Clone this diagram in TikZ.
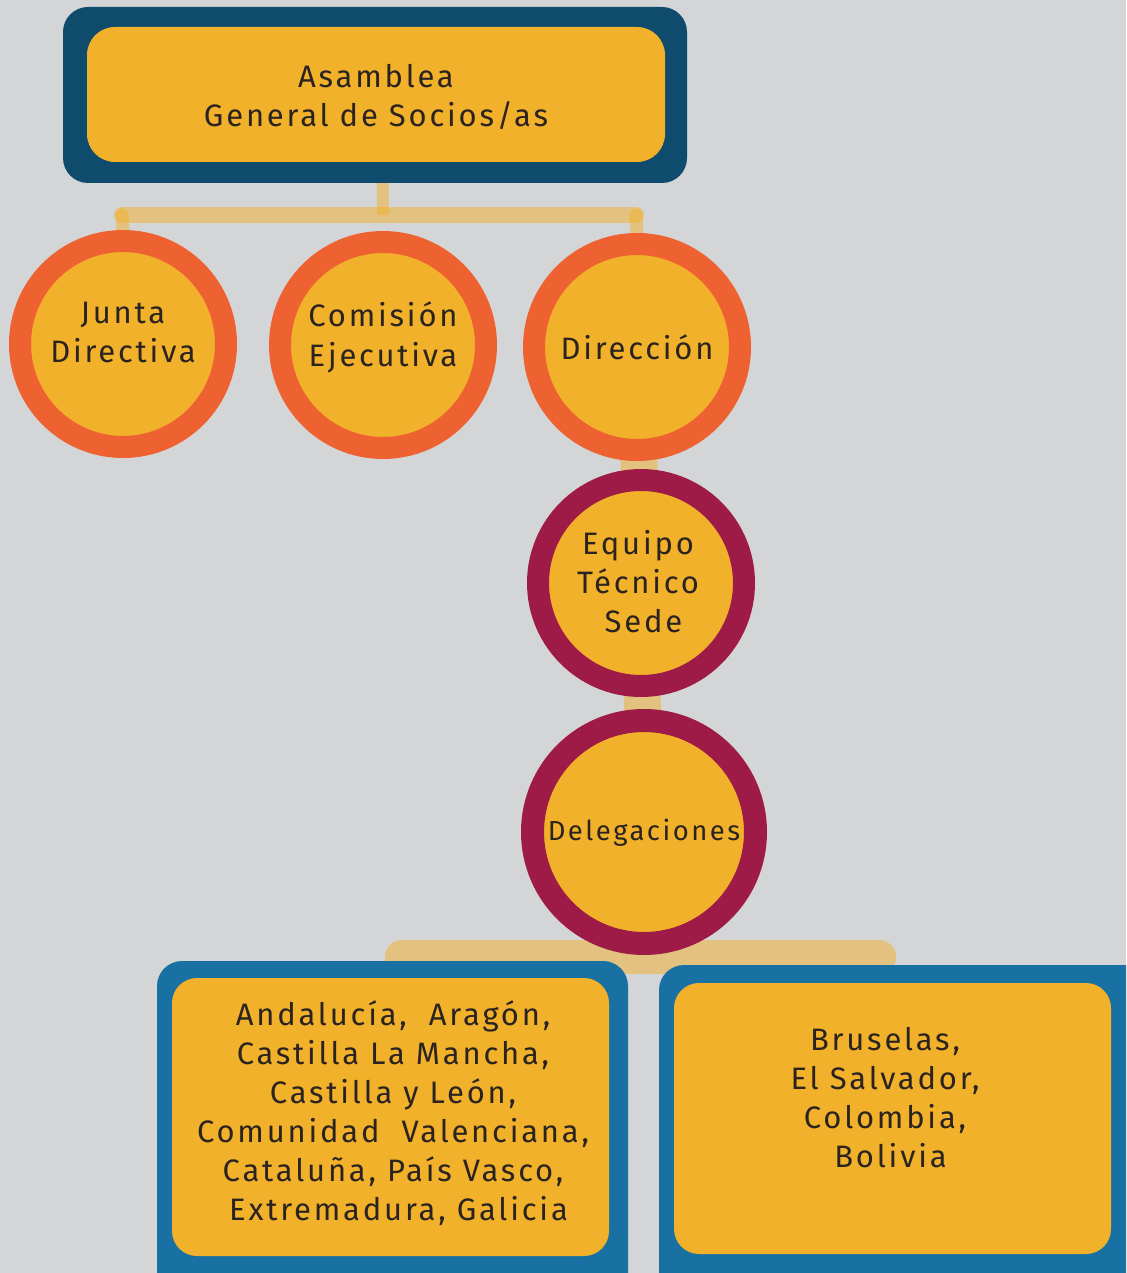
\documentclass[tikz,border=0pt]{standalone}
\usepackage{fontspec}
\setmainfont[LetterSpace=9]{Fira Sans}
\usetikzlibrary{backgrounds}
\definecolor{bgc}{HTML}{D4D5D7}
\definecolor{gold}{HTML}{F2B12A}
\definecolor{navy}{HTML}{0E4B6C}
\definecolor{orng}{HTML}{EE6130}
\definecolor{wine}{HTML}{9E1B47}
\definecolor{blu}{HTML}{1870A3}
\definecolor{ink}{HTML}{2A2320}
\begin{document}
\begin{tikzpicture}[x=1pt,y=-1pt,
  txt/.style={text=ink,align=center,font=\fontsize{31}{39}\selectfont},
  frame/.style={rounded corners=25pt,inner sep=0pt},
  ring/.style={circle,fill=gold,inner sep=0pt},
  oring/.style={ring,draw=orng,line width=22pt,minimum size=206pt},
  wring/.style={ring,draw=wine,line width=22pt,minimum size=206pt},
  conn/.style={draw=gold,draw opacity=0.5}]
\useasboundingbox (0,0) rectangle (1126,1273);
\begin{scope}[on background layer]
  \fill[bgc] (0,0) rectangle (1126,1273);
\end{scope}
% top box
\node[frame,fill=navy,minimum width=624pt,minimum height=176pt] (asmOut) at (375,95) {};
\node[frame,rounded corners=28pt,fill=gold,minimum width=578pt,minimum height=135pt] (asm) at (376,94.5) {};
\node[txt] (asmTxt) at (376,97) {Asamblea\\General de Socios/as};
% circles
\node[oring] (junta) at (123,344) {};
\node[txt] (juntaTxt) at (123,333) {Junta\\Directiva};
\node[oring] (comi) at (383,345) {};
\node[txt,font=\fontsize{31}{40}\selectfont] (comiTxt) at (383,337.5) {Comisión\\Ejecutiva};
\node[oring] (dir) at (637,347) {};
\node[txt] (dirTxt) at (637,347) {Dirección};
\node[wring] (eq) at (641,583) {};
\node[txt] (eqTxt) at (638,582) {Equipo\\Técnico\\\ Sede};
\node[ring,draw=wine,line width=23pt,minimum size=223pt] (del) at (644,832) {};
\node[txt,font=\fontsize{27.5}{33}\selectfont] (delTxt) at (644,833) {Delegaciones};
% bottom boxes
\begin{scope}
\clip (0,0) rectangle (1126,1273);
\node[frame,fill=blu,minimum width=471pt,minimum height=339pt] (espOut) at (392.5,1130.5) {};
\node[frame,fill=gold,minimum width=437pt,minimum height=278pt] (esp) at (390.5,1117) {};
\node[frame,fill=blu,minimum width=491pt,minimum height=335pt] (intOut) at (904.5,1132.5) {};
\node[frame,fill=gold,minimum width=437pt,minimum height=271pt] (int) at (892.5,1118.5) {};
\end{scope}
\node[txt] (espTxt) at (393,1113) {Andalucía,\ \ Aragón,\\Castilla La Mancha,\\Castilla y León,\\Comunidad\ \ Valenciana,\\Cataluña, País Vasco,\\\ Extremadura, Galicia};
\node[txt] (intTxt) at (885,1097.5) {Bruselas,\\El Salvador,\\Colombia,\\\ Bolivia};
% connectors
\coordinate (barL) at (122,215);
\coordinate (barM) at (383,215);
\coordinate (barR) at (636,215);
\coordinate (bbL) at (402,957);
\coordinate (bbR) at (879,957);
\begin{scope}[on background layer]
  \draw[conn,line width=12pt] (asmOut.south -| barM) -- (barM);
  \draw[conn,line width=16pt,line cap=round] (barL) -- (barR);
  \draw[conn,line width=13pt,line cap=round] (barL) -- (junta.north);
  \draw[conn,line width=13pt,line cap=round] (barR) -- (dir.north);
  \draw[conn,line width=37pt] (dir.center) -- (eq.center);
  \draw[conn,line width=37pt] (eq.center) -- (del.center);
  \draw[conn,line width=34pt,line cap=round] (bbL) -- (bbR);
\end{scope}
\end{tikzpicture}
\end{document}
